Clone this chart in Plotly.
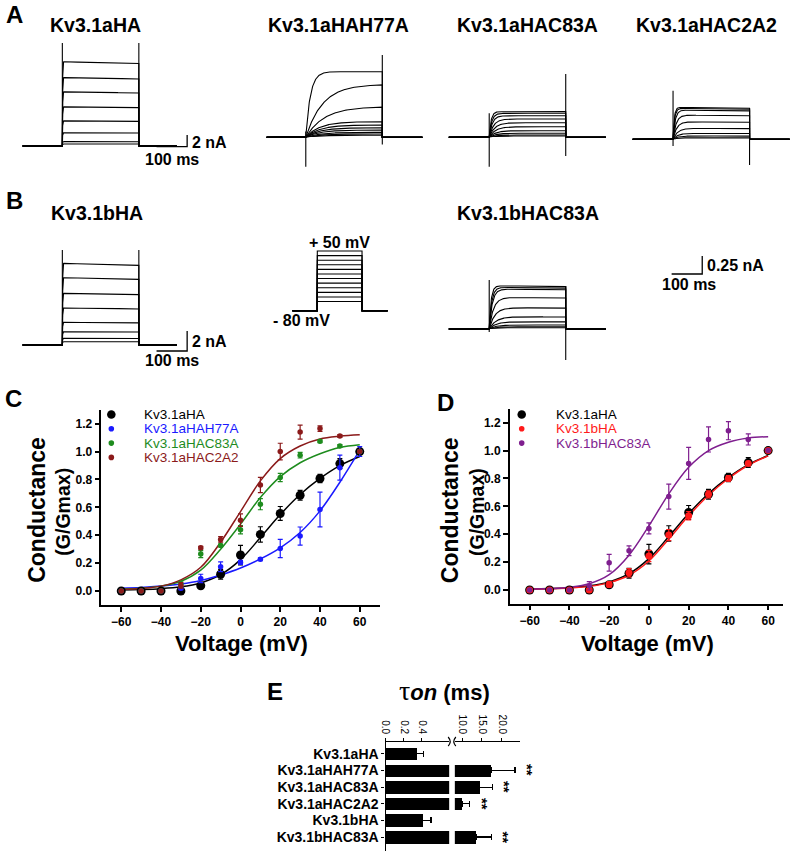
import numpy as np
import plotly.graph_objects as go

W, H = 791, 853
FONT = "Arial, 'Liberation Sans', Helvetica, sans-serif"

# ---------------- Panel C / D data (G/Gmax vs voltage) ----------------
voltage = [-60, -50, -40, -30, -20, -10, 0, 10, 20, 30, 40, 50, 60]

g_aHA = [0, 0, 0, 0, 0.038, 0.12, 0.258, 0.406, 0.556, 0.687, 0.807, 0.914, 1.0]
e_aHA = [0, 0, 0, 0, 0.01, 0.035, 0.07, 0.055, 0.05, 0.035, 0.03, 0.035, 0]
g_aH77A = [0, 0, 0, 0.02, 0.09, 0.174, 0.205, 0.227, 0.305, 0.394, 0.585, 0.885, 1.0]
e_aH77A = [0, 0, 0, 0.01, 0.03, 0.035, 0.015, 0.01, 0.065, 0.065, 0.125, 0.09, 0.035]
g_aC83A = [0, 0, 0, 0.05, 0.265, 0.327, 0.44, 0.623, 0.814, 0.974, 1.074, 1.04, 1.0]
e_aC83A = [0, 0, 0, 0.02, 0.025, 0.01, 0.03, 0.04, 0.03, 0.02, 0.01, 0.01, 0]
g_aC2A2 = [0, 0, 0, 0.04, 0.31, 0.37, 0.508, 0.76, 1.0, 1.14, 1.165, 1.112, 1.0]
e_aC2A2 = [0, 0, 0, 0.02, 0.01, 0.02, 0.045, 0.055, 0.06, 0.05, 0.02, 0.01, 0]
g_bHA = [0, 0, 0, 0, 0.04, 0.124, 0.244, 0.394, 0.533, 0.686, 0.80, 0.908, 1.0]
e_bHA = [0, 0, 0, 0, 0.02, 0.03, 0.04, 0.04, 0.03, 0.025, 0.02, 0.015, 0]
g_bC83A = [0, 0, 0, 0.03, 0.196, 0.282, 0.442, 0.67, 0.908, 1.08, 1.143, 1.08, 1.0]
e_bC83A = [0, 0, 0, 0.03, 0.06, 0.035, 0.04, 0.09, 0.115, 0.09, 0.065, 0.04, 0]

# Boltzmann fit curves at each voltage
fit_aHA = [0.008, 0.011, 0.017, 0.03, 0.058, 0.117, 0.225, 0.383, 0.548, 0.692, 0.808, 0.9, 0.965]
fit_aH77A = [0.02, 0.025, 0.035, 0.05, 0.075, 0.115, 0.165, 0.23, 0.31, 0.42, 0.575, 0.78, 1.01]
fit_aC83A = [0.015, 0.02, 0.035, 0.07, 0.15, 0.3, 0.48, 0.67, 0.82, 0.92, 0.985, 1.03, 1.05]
fit_aC2A2 = [0.01, 0.018, 0.035, 0.08, 0.17, 0.35, 0.57, 0.79, 0.95, 1.04, 1.09, 1.11, 1.12]
fit_bHA = [0.006, 0.009, 0.014, 0.026, 0.053, 0.106, 0.208, 0.366, 0.532, 0.68, 0.8, 0.895, 0.962]
fit_bC83A = [0.005, 0.01, 0.02, 0.045, 0.11, 0.25, 0.46, 0.69, 0.88, 1.0, 1.06, 1.09, 1.1]

v_ticks = [-60, -40, -20, 0, 20, 40, 60]
g_ticks = [0, 0.2, 0.4, 0.6, 0.8, 1.0, 1.2]

# ---------------- Panel E data (tau on, ms) ----------------
constructs = ["Kv3.1aHA", "Kv3.1aHAH77A", "Kv3.1aHAC83A", "Kv3.1aHAC2A2", "Kv3.1bHA", "Kv3.1bHAC83A"]
tau_on = [0.34, 17.3, 14.4, 10.0, 0.41, 13.5]
tau_err = [0.08, 6.0, 3.3, 1.8, 0.09, 3.8]
signif = ["", "**", "**", "**", "", "**"]

# ---------------- Current traces (panels A, B) ----------------
# steady-state current of each sweep (nA) and activation time constants (ms)
lv_aHA = [14.4, 11.7, 9.25, 6.7, 4.3, 2.26, 0.74, 0.34]
tau_aHA = [0.6] * 8
lv_aH77A = [0.911, 0.736, 0.425, 0.217, 0.171, 0.133, 0.101, 0.069, 0.046, 0.028]
tau_aH77A = [15, 55, 60, 45, 45, 45, 45, 45, 45, 45]
lv_aC83A = [0.356, 0.333, 0.300, 0.254, 0.203, 0.147, 0.092, 0.056, 0.032, 0.018]
tau_aC83A = [6, 8, 10, 14, 18, 20, 20, 20, 20, 20]
lv_aC2A2 = [0.444, 0.431, 0.407, 0.338, 0.244, 0.153, 0.083, 0.046, 0.022]
tau_aC2A2 = [4, 5, 7, 10, 12, 15, 15, 15, 15]
lv_bHA = [8.17, 6.73, 5.17, 3.7, 2.27, 1.33, 0.67, 0.33]
tau_bHA = [0.6] * 8
lv_bC83A = [0.601, 0.579, 0.556, 0.44, 0.296, 0.171, 0.101, 0.056, 0.032, 0.018]
tau_bC83A = [6, 8, 10, 14, 18, 22, 22, 22, 22, 22]

pulse_ms = 250
step_mV = [-60, -50, -40, -30, -20, -10, 0, 10, 20, 30, 40, 50]
hold_mV = -80

fig = go.Figure()
n_ax = [0]


def px(x, y):
    return x / W, 1 - y / H


def make_axes(box, origin, scale):
    n_ax[0] += 1
    n = n_ax[0]
    s = "" if n == 1 else str(n)
    x0, y0, x1, y1 = box
    ox, oy = origin
    sx, sy = scale
    fig.update_layout(**{
        "xaxis" + s: dict(domain=[x0 / W, x1 / W], range=[(x0 - ox) / sx, (x1 - ox) / sx],
                          anchor="y" + s, visible=False, showgrid=False, zeroline=False, fixedrange=True),
        "yaxis" + s: dict(domain=[1 - y1 / H, 1 - y0 / H], range=[(oy - y1) / sy, (oy - y0) / sy],
                          anchor="x" + s, visible=False, showgrid=False, zeroline=False, fixedrange=True),
    })
    return "x" + s, "y" + s, "xaxis" + s, "yaxis" + s


def label(x, y, text, size, color="black", bold=True, xanchor="center", yanchor="middle", angle=0):
    fig.add_annotation(x=x / W, y=1 - y / H, xref="paper", yref="paper", text=text, showarrow=False,
                       font=dict(size=size, color=color, family=FONT, weight=700 if bold else 400),
                       xanchor=xanchor, yanchor=yanchor, textangle=angle, borderpad=0)


t_pulse = np.arange(0, pulse_ms + 1, 1.0)


def trace_panel(box, origin, scale, levels, taus, decay, t_pre, t_post, spike_on, spike_off):
    xa, ya, _, _ = make_axes(box, origin, scale)
    for lv, tau in zip(levels, taus):
        i = lv * (1 - np.exp(-t_pulse / tau)) * (1 - decay * t_pulse / pulse_ms)
        xs = np.concatenate([[t_pre, 0], t_pulse, [pulse_ms, t_post]])
        ys = np.concatenate([[0, 0], i, [0, 0]])
        fig.add_trace(go.Scatter(x=xs, y=ys, mode="lines", line=dict(color="black", width=1.1),
                                 xaxis=xa, yaxis=ya, showlegend=False, hoverinfo="skip"))
    fig.add_trace(go.Scatter(x=[0, 0, None, pulse_ms, pulse_ms],
                             y=[spike_on[0], spike_on[1], None, spike_off[0], spike_off[1]],
                             mode="lines", line=dict(color="black", width=1.1),
                             xaxis=xa, yaxis=ya, showlegend=False, hoverinfo="skip"))
    return xa, ya


def scale_bar(xa, ya, t_end, y0, ms, na):
    fig.add_trace(go.Scatter(x=[t_end - ms, t_end, t_end], y=[y0, y0, y0 + na], mode="lines",
                             line=dict(color="black", width=1.3), xaxis=xa, yaxis=ya,
                             showlegend=False, hoverinfo="skip"))


SX = 0.308  # px per ms for current traces

# A row
xa, ya = trace_panel((10, 35, 200, 175), (57.7, 146), (SX, 5.85), lv_aHA, tau_aHA, 0.02,
                     -130, 374, (0, 17.6), (0, 17.6))
scale_bar(xa, ya, 407.8, -0.12, 100, 2)
trace_panel((255, 35, 425, 175), (302.7, 137.3), (SX, 72), lv_aH77A, tau_aH77A, 0.0,
            -128, 381, (-0.41, 0.08), (-0.1, 1.143))
trace_panel((440, 35, 615, 175), (487.3, 137.3), (SX, 72), lv_aC83A, tau_aC83A, 0.0,
            -132, 381, (-0.408, 0.333), (-0.26, 0.879))
trace_panel((625, 35, 791, 175), (672.3, 139.3), (SX, 72), lv_aC2A2, tau_aC2A2, 0.03,
            -132, 381, (-0.093, 0.675), (-0.357, 0.435))

# B row
xa, ya = trace_panel((10, 230, 200, 365), (57.7, 345), (SX, 10), lv_bHA, tau_bHA, 0.025,
                     -130, 374, (0, 9.5), (0, 9.5))
scale_bar(xa, ya, 407.8, -0.6, 100, 2)
xa, ya = trace_panel((440, 240, 720, 365), (487.3, 329), (SX, 72), lv_bC83A, tau_bC83A, 0.02,
                     -132, 381, (-0.042, 0.681), (-0.43, 0.597))
scale_bar(xa, ya, 696, 0.764, 100, 0.25)

# voltage protocol
PX_MV = 0.459
xa, ya, _, _ = make_axes((280, 240, 395, 320), (314.3, 310.7 + hold_mV * PX_MV), (0.18, PX_MV))
for v in step_mV:
    fig.add_trace(go.Scatter(x=[-139, 0, 0, pulse_ms, pulse_ms, 393],
                             y=[hold_mV, hold_mV, v, v, hold_mV, hold_mV], mode="lines",
                             line=dict(color="black", width=1.1), xaxis=xa, yaxis=ya,
                             showlegend=False, hoverinfo="skip"))

# ---------------- Panels C and D ----------------
AX_STYLE = dict(visible=True, showline=True, linecolor="black", linewidth=1.5, ticks="outside",
                ticklen=5, tickwidth=1.5, tickcolor="black",
                tickfont=dict(size=12, family=FONT, weight=700, color="black"))


def gv_panel(box, origin, series, fits):
    xa, ya, xk, yk = make_axes(box, origin, (2.0, 139.4))
    fig.update_layout(**{
        xk: dict(AX_STYLE, tickvals=v_ticks),
        yk: dict(AX_STYLE, tickvals=g_ticks, ticktext=["%.1f" % g for g in g_ticks]),
    })
    for fit, color in fits:
        fig.add_trace(go.Scatter(x=voltage, y=fit, mode="lines", line=dict(color=color, width=1.5, shape="spline", smoothing=1.0),
                                 xaxis=xa, yaxis=ya, showlegend=False, hoverinfo="skip"))
    for g, e, color, size in series:
        fig.add_trace(go.Scatter(x=voltage, y=g, mode="markers",
                                 marker=dict(color=color, size=size, line=dict(width=0)),
                                 error_y=dict(type="data", array=e, color=color, thickness=1.2, width=2.5),
                                 xaxis=xa, yaxis=ya, showlegend=False, hoverinfo="skip"))


BLACK, BLUE, GREEN, DRED, RED, PURPLE = "#000000", "#1a1aff", "#1e8c1e", "#8b1a1a", "#ff1a1a", "#7f1f8f"

gv_panel((97, 410, 377, 605), (237, 591),
         [(g_aHA, e_aHA, BLACK, 9), (g_aH77A, e_aH77A, BLUE, 5.5), (g_aC83A, e_aC83A, GREEN, 5.5),
          (g_aC2A2, e_aC2A2, DRED, 5.5)],
         [(fit_aHA, BLACK), (fit_aH77A, BLUE), (fit_aC83A, GREEN), (fit_aC2A2, DRED)])
gv_panel((508, 409, 783, 603.5), (648, 590),
         [(g_aHA, e_aHA, BLACK, 9), (g_bHA, e_bHA, RED, 7), (g_bC83A, e_bC83A, PURPLE, 5.5)],
         [(fit_aHA, BLACK), (fit_bHA, RED), (fit_bC83A, PURPLE)])

# legends for C and D
def legend(entries, mx, tx, ys):
    for (name, color, r), y in zip(entries, ys):
        x0, y0 = px(mx - r, y - r)
        x1, y1 = px(mx + r, y + r)
        fig.add_shape(type="circle", xref="paper", yref="paper", x0=x0, y0=y1, x1=x1, y1=y0,
                      fillcolor=color, line=dict(width=0))
        label(tx, y, name, 13.5, color=color, bold=False, xanchor="left")


legend([("Kv3.1aHA", BLACK, 4.3), ("Kv3.1aHAH77A", BLUE, 2.8), ("Kv3.1aHAC83A", GREEN, 2.8),
        ("Kv3.1aHAC2A2", DRED, 2.8)], 107, 139, [414.5, 428.8, 443.1, 457.4])
legend([("Kv3.1aHA", BLACK, 4.3), ("Kv3.1bHA", RED, 2.8), ("Kv3.1bHAC83A", PURPLE, 2.8)],
       520, 553, [414.5, 428.8, 443.1])

# ---------------- Panel E ----------------
n_ax[0] += 1
sL = str(n_ax[0])
n_ax[0] += 1
sR = str(n_ax[0])
E_TOP, E_BOT = 741.7, 851
tickE = dict(visible=True, showline=True, linecolor="black", linewidth=1.3, ticks="outside",
             ticklen=3, tickcolor="black", side="top", tickangle=90, showgrid=False, zeroline=False,
             tickfont=dict(size=10, family=FONT, color="black"), anchor="y" + sL, fixedrange=True)
fig.update_layout(**{
    "xaxis" + sL: dict(tickE, domain=[383 / W, 447 / W], range=[0, 0.7],
                       tickvals=[0, 0.2, 0.4], ticktext=["0.0", "0.2", "0.4"]),
    "xaxis" + sR: dict(tickE, domain=[452.7 / W, 518 / W], range=[8.17, 24.5],
                       tickvals=[10, 15, 20], ticktext=["10.0", "15.0", "20.0"]),
    "yaxis" + sL: dict(domain=[1 - E_BOT / H, 1 - E_TOP / H], type="category", range=[5.84, -0.73],
                       anchor="x" + sL, showline=True, linecolor="black", linewidth=1.3, ticks="outside",
                       ticklen=3, tickcolor="black", showgrid=False, zeroline=False, fixedrange=True,
                       tickmode="array", tickvals=constructs, ticktext=constructs,
                       tickfont=dict(size=14, family=FONT, weight=700, color="black")),
})
for s in (sL, sR):
    fig.add_trace(go.Bar(x=tau_on, y=constructs, orientation="h", width=0.75,
                         marker=dict(color="black", line=dict(width=0)),
                         error_x=dict(type="data", array=tau_err, arrayminus=[0] * len(tau_err),
                                      symmetric=False, color="black", thickness=1.2, width=3),
                         xaxis="x" + s, yaxis="y" + sL, showlegend=False, hoverinfo="skip"))
for c, v, e, sg in zip(constructs, tau_on, tau_err, signif):
    if sg:
        fig.add_annotation(x=v + e, y=c, xref="x" + sR, yref="y" + sL, text="<b>" + sg + "</b>",
                           showarrow=False, textangle=90, xanchor="left", yanchor="middle", xshift=2,
                           font=dict(size=15, family=FONT, color="black"))

# axis break marks
for xb, d in ((447.5, 1), (452.2, -1)):
    pts = [px(xb - 1.5 * d, 746), px(xb + 2.5 * d, 741.7), px(xb - 1.5 * d, 737)]
    fig.add_shape(type="path", xref="paper", yref="paper", line=dict(color="black", width=1.2),
                  path="M %f,%f Q %f,%f %f,%f" % (pts[0][0], pts[0][1], pts[1][0], pts[1][1], pts[2][0], pts[2][1]))

# ---------------- Text ----------------
for t, x, y in (("A", 10, 15), ("B", 10, 200), ("C", 9, 398), ("D", 443, 402), ("E", 272, 691)):
    label(x, y, t, 24)
for t, x, y in (("Kv3.1aHA", 91.5, 25), ("Kv3.1aHAH77A", 335.5, 25), ("Kv3.1aHAC83A", 525.5, 25),
                ("Kv3.1aHAC2A2", 705.5, 25), ("Kv3.1bHA", 92.5, 213), ("Kv3.1bHAC83A", 526, 213)):
    label(x, y, t, 19.5)
label(187, 142, "2 nA", 16, xanchor="left")
label(168.5, 159, "100 ms", 16)
label(187, 341.5, "2 nA", 16, xanchor="left")
label(168.5, 360, "100 ms", 16)
label(705, 265.5, "0.25 nA", 16, xanchor="left")
label(688, 284, "100 ms", 16)
label(336.7, 243, "+ 50 mV", 16)
label(298, 320.5, "- 80 mV", 16)
for cx, gx in ((32, 58), (448, 475)):
    label(cx, 510, "Conductance", 23, angle=-90)
    label(gx, 512, "(G/Gmax)", 19.5, angle=-90)
label(238, 643, "Voltage (mV)", 22)
label(647, 643, "Voltage (mV)", 22)
label(442, 690, '<span style="font-family:\'Liberation Serif\',\'DejaVu Serif\',serif;font-size:28px;font-weight:normal">τ</span><i>on</i> (ms)', 22)

fig.update_layout(width=W, height=H, margin=dict(l=0, r=0, t=0, b=0), paper_bgcolor="white",
                  plot_bgcolor="rgba(0,0,0,0)", font=dict(family=FONT, color="black"), showlegend=False,
                  bargap=0)
fig.write_html("out.html", config={"displayModeBar": False},
               post_script="document.body.style.margin='0';document.body.style.overflow='hidden';")
